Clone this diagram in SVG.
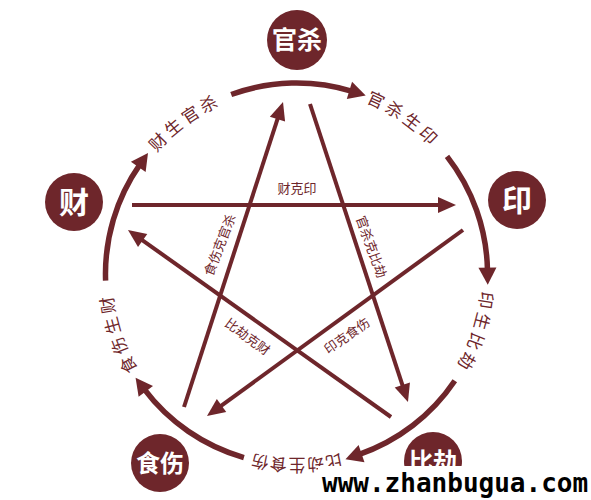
<svg xmlns="http://www.w3.org/2000/svg" width="591" height="500" viewBox="0 0 591 500">
<style>
.ring{fill:none;stroke:#6e262b;stroke-width:5.5;}
.star{fill:none;stroke:#6e262b;stroke-width:4;}
.node circle{fill:#6e262b;}
.node text{fill:#fff;font-family:"Noto Sans CJK SC","Noto Sans",sans-serif;font-weight:bold;text-anchor:middle;}
.plab{fill:#6e262b;font-family:"Noto Sans CJK SC","Noto Sans",sans-serif;font-size:17px;}
.ilab{fill:#6e262b;font-family:"Noto Sans CJK SC","Noto Sans",sans-serif;font-size:13px;text-anchor:middle;}
</style>
<defs>
<marker id="ra" markerUnits="userSpaceOnUse" markerWidth="20" markerHeight="20" refX="3" refY="9" orient="auto" overflow="visible">
<path d="M0,0 L17,9 L0,18 Z" fill="#6e262b"/>
</marker>
<marker id="sa" markerUnits="userSpaceOnUse" markerWidth="20" markerHeight="20" refX="4" refY="8" orient="auto" overflow="visible">
<path d="M0,0 L18,8 L0,16 Z" fill="#6e262b"/>
</marker>
<path id="tp" d="M296.5,89 A185,185 0 1,1 296.5,459 A185,185 0 1,1 296.5,89"/>
<clipPath id="cut"><rect x="0" y="0" width="591" height="466"/></clipPath>
</defs>
<rect width="591" height="500" fill="#fff"/>
<g id="connectors">
<path class="ring" marker-end="url(#ra)" d="M231.2,94.5 A191,191 0 0,1 352.3,91.3"/>
<path class="ring" marker-end="url(#ra)" d="M447.0,156.4 A191,191 0 0,1 487.5,270.7"/>
<path class="ring" marker-end="url(#ra)" d="M454.8,380.8 A191,191 0 0,1 358.7,454.6"/>
<path class="ring" marker-end="url(#ra)" d="M243.9,457.6 A191,191 0 0,1 144.0,388.9"/>
<path class="ring" marker-end="url(#ra)" d="M105.6,280.7 A191,191 0 0,1 140.0,164.4"/>
<path class="star" marker-end="url(#sa)" d="M132,205 L442,205"/>
<path class="star" marker-end="url(#sa)" d="M310,104 L403.6,388.7"/>
<path class="star" marker-end="url(#sa)" d="M184,407 L278.7,115.3"/>
<path class="star" marker-end="url(#sa)" d="M391,417 L139.4,238.1"/>
<path class="star" marker-end="url(#sa)" d="M463,230 L218.3,407.8"/>
<text class="plab" letter-spacing="3.5"><textPath href="#tp" startOffset="9.6%" text-anchor="middle">官杀生印</textPath></text>
<text class="plab" letter-spacing="3.5"><textPath href="#tp" startOffset="30%" text-anchor="middle">印生比劫</textPath></text>
<text class="plab" letter-spacing="1"><textPath href="#tp" startOffset="50%" text-anchor="middle">比劫生食伤</textPath></text>
<text class="plab" letter-spacing="3.5"><textPath href="#tp" startOffset="69.9%" text-anchor="middle">食伤生财</textPath></text>
<text class="plab" letter-spacing="3.5"><textPath href="#tp" startOffset="89.9%" text-anchor="middle">财生官杀</textPath></text>
<text class="ilab" x="297" y="193">财克印</text>
<text class="ilab" transform="translate(220,245) rotate(-69)" y="4.5">食伤克官杀</text>
<text class="ilab" transform="translate(371,247) rotate(70)" y="4.5">官杀克比劫</text>
<text class="ilab" transform="translate(247.5,337) rotate(36)" y="4.5">比劫克财</text>
<text class="ilab" transform="translate(347,336) rotate(-35)" y="4.5">印克食伤</text>
</g>
<g id="n-guansha" class="node"><circle cx="297" cy="40" r="30"/><text x="297" y="49" font-size="25">官杀</text></g>
<g id="n-yin" class="node"><circle cx="517" cy="200" r="29"/><text x="517" y="211" font-size="30">印</text></g>
<g id="n-bijie" class="node" clip-path="url(#cut)"><circle cx="433" cy="461" r="29"/><text x="433" y="470" font-size="24">比劫</text></g>
<g id="n-shishang" class="node"><circle cx="160" cy="463" r="29"/><text x="160" y="472" font-size="24">食伤</text></g>
<g id="n-cai" class="node"><circle cx="74" cy="202" r="29"/><text x="74" y="213" font-size="30">财</text></g>
<g id="watermark">
<rect x="318" y="466" width="273" height="34" fill="#fff"/>
<text x="322" y="492" font-family="DejaVu Sans Mono, monospace" font-weight="bold" font-size="26" fill="#000">www.zhanbugua.com</text>
</g>
</svg>
